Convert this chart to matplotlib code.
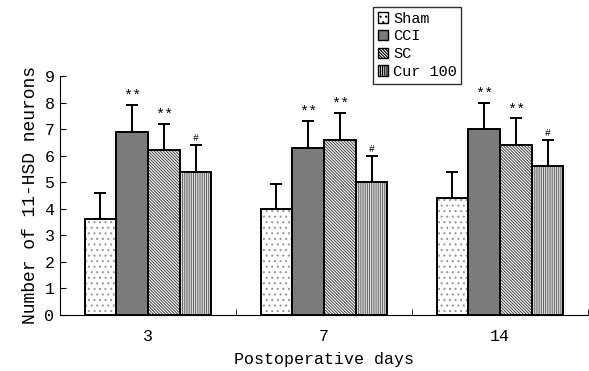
import numpy as np
import matplotlib
matplotlib.use("Agg")
import matplotlib.pyplot as plt
from matplotlib.patches import Patch

plt.rcParams['font.family'] = ['Liberation Mono', 'DejaVu Sans']
plt.rcParams['hatch.linewidth'] = 0.8

days = ['3', '7', '14']
groups = ['Sham', 'CCI', 'SC', 'Cur 100']
means = {
    'Sham':    [3.6, 4.0, 4.4],
    'CCI':     [6.9, 6.3, 7.0],
    'SC':      [6.2, 6.6, 6.4],
    'Cur 100': [5.4, 5.0, 5.6],
}
errs = {
    'Sham':    [1.0, 0.95, 1.0],
    'CCI':     [1.0, 1.0, 1.0],
    'SC':      [1.0, 1.0, 1.0],
    'Cur 100': [1.0, 1.0, 1.0],
}
marks = {
    'Sham':    ['', '', ''],
    'CCI':     ['**', '**', '**'],
    'SC':      ['**', '**', '**'],
    'Cur 100': ['#', '#', '#'],
}

# face, hatch, hatch colour per group
styles = {
    'Sham':    ('white', '...', '#999999'),
    'CCI':     ('#7b7b7b', None, None),
    'SC':      ('white', '\\' * 11, '#555555'),
    'Cur 100': ('white', '|' * 9, '#6a6a6a'),
}

fig = plt.figure(figsize=(5.89, 3.71), dpi=100)
ax = fig.add_axes([60 / 589, 1 - 315 / 371, 528 / 589, 239 / 371])

x = np.arange(len(days))
w = 0.18
for i, g in enumerate(groups):
    pos = x + (i - 1.5) * w
    face, hatch, hcol = styles[g]
    ax.bar(pos, means[g], w, color=face, edgecolor=hcol if hatch else face,
           hatch=hatch, linewidth=0, zorder=2)
    ax.bar(pos, means[g], w, fill=False, edgecolor='black', linewidth=1.4, zorder=3)
    ax.errorbar(pos, means[g], yerr=[np.zeros(3), errs[g]], fmt='none',
                ecolor='black', elinewidth=1.4, capsize=4, capthick=1.4, zorder=4)
    for p, m, e, t in zip(pos, means[g], errs[g], marks[g]):
        if t:
            fs = 11 if t == '**' else 7
            ax.text(p, m + e + 0.08, t, ha='center', va='bottom', fontsize=fs)

ax.set_xlim(-0.5, 2.5)
ax.set_ylim(0, 9)
ax.set_yticks(range(10))
ax.tick_params(axis='y', direction='in', length=4, labelsize=12, pad=4)
ax.set_xticks(x)
ax.set_xticklabels(days)
ax.tick_params(axis='x', length=0, labelsize=12, pad=10)
ax.set_xticks([0.5, 1.5, 2.5], minor=True)
ax.tick_params(axis='x', which='minor', direction='in', length=4)
ax.spines['top'].set_visible(False)
ax.spines['right'].set_visible(False)
ax.set_xlabel('Postoperative days', fontsize=12, labelpad=6)
ax.set_ylabel('Number of 11-HSD neurons', fontsize=13, labelpad=4)

handles = []
for g in groups:
    face, hatch, hcol = styles[g]
    handles.append(Patch(facecolor=face, edgecolor='black', hatch=hatch, linewidth=1.0))
leg = fig.legend(handles, groups, loc='upper left',
                 bbox_to_anchor=(373 / 589, 1 - 7 / 371), borderaxespad=0,
                 fontsize=11, frameon=True, fancybox=False, edgecolor='black',
                 handlelength=0.7, handleheight=0.7, handletextpad=0.3,
                 labelspacing=0.25, borderpad=0.3)
leg.get_frame().set_linewidth(1.0)

fig.savefig('out.png', dpi=100)
